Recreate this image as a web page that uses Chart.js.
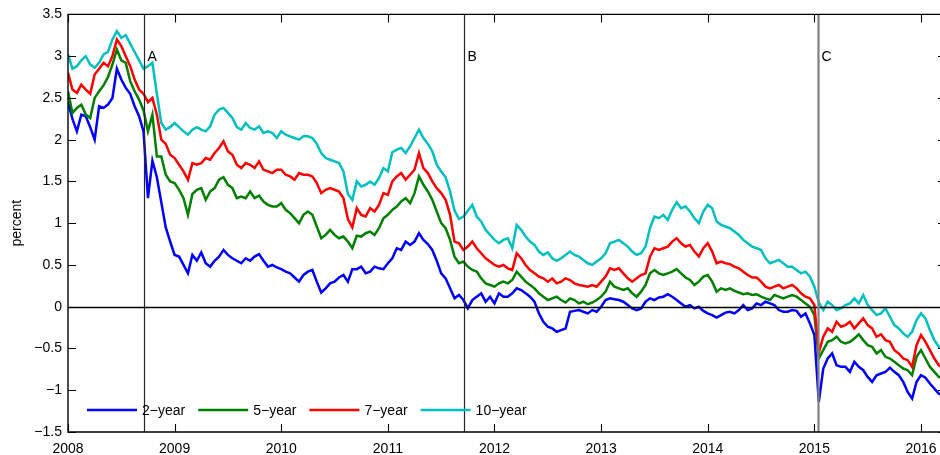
<!DOCTYPE html>
<html>
<head>
<meta charset="utf-8">
<title>Swiss government bond yields</title>
<script src="https://cdn.jsdelivr.net/npm/chart.js@4.4.1/dist/chart.umd.min.js"></script>
<style>
  html, body { margin: 0; padding: 0; background: #fff; overflow: hidden; }
  #wrap { width: 946px; height: 455px; }
</style>
</head>
<body>
<div id="wrap"><canvas id="c" width="946" height="455"></canvas></div>
<script>
// Half-monthly observations starting January 2008
const startYear = 2008;
const stepsPerYear = 24;

const yield2y = [
  2.45, 2.25, 2.10, 2.30, 2.28, 2.15, 2.00, 2.40, 2.38, 2.42, 2.50, 2.85, 2.72, 2.62, 2.55, 2.40,
  2.28, 2.10, 1.30, 1.75, 1.55, 1.25, 0.95, 0.78, 0.62, 0.60, 0.50, 0.40, 0.62, 0.55, 0.65, 0.52,
  0.48, 0.55, 0.60, 0.68, 0.62, 0.58, 0.55, 0.52, 0.58, 0.55, 0.60, 0.63, 0.55, 0.48, 0.50, 0.47,
  0.45, 0.42, 0.40, 0.35, 0.30, 0.38, 0.42, 0.44, 0.30, 0.17, 0.22, 0.28, 0.30, 0.35, 0.38, 0.30,
  0.45, 0.45, 0.48, 0.40, 0.42, 0.48, 0.46, 0.45, 0.52, 0.58, 0.70, 0.68, 0.78, 0.74, 0.78, 0.88,
  0.80, 0.75, 0.68, 0.55, 0.40, 0.34, 0.22, 0.10, 0.14, 0.08, -0.02, 0.08, 0.12, 0.16, 0.06, 0.12,
  0.04, 0.16, 0.12, 0.12, 0.16, 0.22, 0.20, 0.16, 0.12, 0.06, -0.08, -0.18, -0.24, -0.26, -0.30, -0.28,
  -0.26, -0.06, -0.05, -0.04, -0.06, -0.08, -0.04, -0.06, 0.00, 0.08, 0.10, 0.09, 0.08, 0.06, 0.02, -0.02,
  -0.04, -0.02, 0.06, 0.10, 0.08, 0.11, 0.12, 0.15, 0.12, 0.08, 0.04, 0.00, 0.02, -0.02, 0.00, -0.05,
  -0.08, -0.10, -0.13, -0.10, -0.07, -0.06, -0.08, -0.04, 0.02, -0.04, -0.02, 0.04, 0.02, 0.06, 0.04, 0.02,
  -0.04, -0.06, -0.06, -0.04, -0.05, -0.12, -0.08, -0.20, -0.34, -1.14, -0.74, -0.62, -0.56, -0.70, -0.72, -0.72,
  -0.78, -0.66, -0.72, -0.76, -0.84, -0.90, -0.82, -0.80, -0.78, -0.73, -0.78, -0.82, -0.90, -1.02, -1.10, -0.90,
  -0.82, -0.85, -0.92, -0.98, -1.04, -1.06
];

const yield5y = [
  2.58, 2.32, 2.38, 2.42, 2.30, 2.26, 2.50, 2.58, 2.65, 2.75, 2.90, 3.08, 2.95, 2.92, 2.70, 2.58,
  2.48, 2.35, 2.10, 2.30, 1.80, 1.80, 1.58, 1.50, 1.48, 1.40, 1.30, 1.10, 1.35, 1.40, 1.42, 1.28,
  1.38, 1.42, 1.52, 1.55, 1.46, 1.42, 1.30, 1.32, 1.30, 1.38, 1.30, 1.33, 1.26, 1.22, 1.20, 1.20,
  1.24, 1.16, 1.12, 1.06, 1.00, 1.10, 1.14, 1.10, 0.96, 0.82, 0.86, 0.92, 0.86, 0.82, 0.84, 0.78,
  0.70, 0.85, 0.84, 0.88, 0.90, 0.86, 0.94, 1.06, 1.10, 1.16, 1.20, 1.26, 1.30, 1.24, 1.36, 1.56,
  1.46, 1.38, 1.28, 1.14, 1.00, 0.94, 0.80, 0.60, 0.52, 0.54, 0.48, 0.44, 0.42, 0.34, 0.28, 0.26,
  0.24, 0.28, 0.30, 0.28, 0.32, 0.42, 0.36, 0.30, 0.26, 0.22, 0.16, 0.12, 0.08, 0.10, 0.12, 0.08,
  0.05, 0.10, 0.08, 0.04, 0.06, 0.03, 0.05, 0.08, 0.12, 0.18, 0.30, 0.24, 0.22, 0.20, 0.22, 0.16,
  0.12, 0.18, 0.26, 0.40, 0.44, 0.40, 0.38, 0.40, 0.42, 0.45, 0.40, 0.35, 0.32, 0.26, 0.30, 0.36,
  0.38, 0.30, 0.18, 0.22, 0.20, 0.22, 0.19, 0.17, 0.15, 0.16, 0.14, 0.15, 0.12, 0.10, 0.08, 0.14,
  0.12, 0.10, 0.12, 0.14, 0.12, 0.08, 0.04, 0.00, -0.10, -0.62, -0.52, -0.42, -0.40, -0.36, -0.42, -0.44,
  -0.42, -0.38, -0.33, -0.40, -0.46, -0.48, -0.56, -0.52, -0.60, -0.62, -0.66, -0.70, -0.74, -0.76, -0.82, -0.60,
  -0.52, -0.62, -0.72, -0.78, -0.84, -0.86
];

const yield7y = [
  2.80, 2.60, 2.56, 2.66, 2.60, 2.55, 2.78, 2.85, 2.92, 2.88, 3.00, 3.20, 3.12, 3.00, 2.88, 2.72,
  2.60, 2.55, 2.45, 2.50, 2.30, 2.00, 1.95, 1.82, 1.78, 1.70, 1.62, 1.52, 1.72, 1.70, 1.72, 1.78,
  1.76, 1.84, 1.90, 1.98, 1.86, 1.82, 1.70, 1.66, 1.72, 1.70, 1.66, 1.74, 1.64, 1.62, 1.60, 1.64,
  1.64, 1.58, 1.56, 1.52, 1.60, 1.58, 1.58, 1.56, 1.48, 1.36, 1.40, 1.42, 1.40, 1.38, 1.30, 1.05,
  0.95, 1.18, 1.10, 1.08, 1.18, 1.14, 1.22, 1.36, 1.34, 1.50, 1.56, 1.60, 1.52, 1.58, 1.64, 1.84,
  1.66, 1.60, 1.50, 1.42, 1.36, 1.28, 1.10, 0.78, 0.76, 0.68, 0.72, 0.78, 0.70, 0.64, 0.58, 0.54,
  0.50, 0.48, 0.50, 0.46, 0.44, 0.64, 0.58, 0.50, 0.44, 0.40, 0.36, 0.34, 0.30, 0.34, 0.28, 0.30,
  0.34, 0.32, 0.28, 0.26, 0.25, 0.24, 0.26, 0.24, 0.30, 0.36, 0.46, 0.44, 0.46, 0.40, 0.34, 0.30,
  0.34, 0.38, 0.40, 0.60, 0.70, 0.68, 0.70, 0.72, 0.78, 0.82, 0.76, 0.72, 0.74, 0.66, 0.60, 0.70,
  0.76, 0.66, 0.52, 0.54, 0.52, 0.51, 0.48, 0.46, 0.42, 0.38, 0.35, 0.35, 0.30, 0.24, 0.22, 0.24,
  0.26, 0.22, 0.24, 0.26, 0.22, 0.16, 0.12, 0.10, 0.02, -0.55, -0.36, -0.26, -0.30, -0.18, -0.24, -0.22,
  -0.18, -0.26, -0.20, -0.14, -0.22, -0.26, -0.36, -0.33, -0.40, -0.42, -0.52, -0.56, -0.62, -0.64, -0.72, -0.46,
  -0.34, -0.42, -0.52, -0.62, -0.70, -0.74
];

const yield10y = [
  3.02, 2.85, 2.88, 2.95, 3.00, 2.90, 2.86, 2.92, 3.02, 3.05, 3.20, 3.30, 3.22, 3.25, 3.15, 3.05,
  2.95, 2.85, 2.88, 2.92, 2.55, 2.20, 2.12, 2.15, 2.20, 2.15, 2.10, 2.06, 2.12, 2.15, 2.12, 2.10,
  2.16, 2.30, 2.36, 2.38, 2.32, 2.26, 2.15, 2.12, 2.20, 2.14, 2.12, 2.16, 2.08, 2.10, 2.08, 2.02,
  2.10, 2.06, 2.04, 2.02, 2.00, 2.04, 2.04, 2.02, 1.95, 1.84, 1.78, 1.76, 1.74, 1.72, 1.62, 1.35,
  1.28, 1.50, 1.44, 1.46, 1.50, 1.46, 1.54, 1.66, 1.62, 1.85, 1.88, 1.90, 1.84, 1.92, 2.02, 2.12,
  2.02, 1.95, 1.86, 1.70, 1.62, 1.55, 1.38, 1.15, 1.05, 1.08, 1.15, 1.22, 1.08, 1.02, 0.92, 0.86,
  0.80, 0.76, 0.80, 0.82, 0.70, 0.98, 0.92, 0.84, 0.78, 0.74, 0.66, 0.62, 0.65, 0.58, 0.55, 0.58,
  0.62, 0.66, 0.62, 0.60, 0.56, 0.52, 0.50, 0.54, 0.58, 0.64, 0.76, 0.78, 0.80, 0.76, 0.72, 0.66,
  0.62, 0.64, 0.72, 0.94, 1.08, 1.06, 1.10, 1.04, 1.16, 1.25, 1.18, 1.20, 1.14, 1.06, 1.00, 1.14,
  1.22, 1.18, 1.02, 0.98, 0.96, 0.94, 0.90, 0.86, 0.80, 0.76, 0.72, 0.70, 0.68, 0.58, 0.52, 0.54,
  0.56, 0.52, 0.48, 0.48, 0.44, 0.40, 0.42, 0.36, 0.24, 0.05, -0.04, 0.06, 0.02, -0.04, -0.02, 0.02,
  0.04, 0.10, 0.04, 0.14, 0.02, -0.04, -0.10, -0.08, -0.02, -0.12, -0.22, -0.26, -0.32, -0.36, -0.30, -0.16,
  -0.08, -0.14, -0.28, -0.40, -0.48, -0.50
];

const seriesLabels = ['2\u2212year', '5\u2212year', '7\u2212year', '10\u2212year'];
const seriesColors = ['#0000ff', '#008000', '#ff0000', '#00bfbf'];

// Event markers: Sept 2008, Sept 2011, Jan 2015
const eventDates = [2008.71, 2011.71, 2015.036];
const eventLabels = ['A', 'B', 'C'];

const yearTicks = [2008, 2009, 2010, 2011, 2012, 2013, 2014, 2015, 2016];
const percentTicks = [-1.5, -1, -0.5, 0, 0.5, 1, 1.5, 2, 2.5, 3, 3.5];

const FONT = '"Liberation Sans", Arial, Helvetica, sans-serif';

function toPoints(values) {
  return values.map((v, i) => ({ x: startYear + i / stepsPerYear, y: v }));
}

const allSeries = [yield2y, yield5y, yield7y, yield10y];

// Frame, inward ticks, zero line, event lines and the in-plot legend
const decorations = {
  id: 'decorations',
  afterDatasetsDraw(chart) {
    const { ctx, chartArea: a, scales: { x, y } } = chart;
    ctx.save();

    // zero line
    const y0 = Math.round(y.getPixelForValue(0)) + 0.5;
    ctx.strokeStyle = '#000';
    ctx.lineWidth = 1.5;
    ctx.beginPath(); ctx.moveTo(a.left, y0); ctx.lineTo(a.right, y0); ctx.stroke();

    // event lines with letters
    ctx.font = '14px ' + FONT;
    ctx.textBaseline = 'middle';
    ctx.textAlign = 'left';
    eventDates.forEach((d, k) => {
      const px = Math.round(x.getPixelForValue(d)) + 0.5;
      const isLast = k === eventDates.length - 1;
      ctx.strokeStyle = isLast ? '#808080' : '#262626';
      ctx.lineWidth = isLast ? 2.2 : 1.2;
      ctx.beginPath(); ctx.moveTo(px, a.top); ctx.lineTo(px, a.bottom); ctx.stroke();
      ctx.fillStyle = '#000';
      ctx.fillText(eventLabels[k], px + 3, y.getPixelForValue(3) + 1);
    });

    // axes frame
    ctx.strokeStyle = '#000';
    ctx.lineWidth = 1.4;
    ctx.beginPath();
    ctx.moveTo(a.right, a.top); ctx.lineTo(a.left, a.top);
    ctx.lineTo(a.left, a.bottom); ctx.lineTo(a.right, a.bottom);
    ctx.moveTo(a.right, a.top); ctx.lineTo(a.right, a.bottom);
    ctx.stroke();

    // inward tick marks on all four sides
    const tl = 8;
    ctx.lineWidth = 1.1;
    ctx.beginPath();
    yearTicks.forEach(v => {
      const px = Math.round(x.getPixelForValue(v)) + 0.5;
      ctx.moveTo(px, a.bottom); ctx.lineTo(px, a.bottom - tl);
      ctx.moveTo(px, a.top); ctx.lineTo(px, a.top + tl);
    });
    percentTicks.forEach(v => {
      const py = Math.round(y.getPixelForValue(v)) + 0.5;
      ctx.moveTo(a.left, py); ctx.lineTo(a.left + tl, py);
      ctx.moveTo(a.right, py); ctx.lineTo(a.right - tl, py);
    });
    ctx.stroke();

    // legend inside the plot, lower left
    let lx = a.left + 19;
    const ly = a.bottom - 22;
    chart.data.datasets.forEach(ds => {
      ctx.strokeStyle = ds.borderColor;
      ctx.lineWidth = 2.5;
      ctx.beginPath(); ctx.moveTo(lx, ly); ctx.lineTo(lx + 50, ly); ctx.stroke();
      lx += 55;
      ctx.fillStyle = '#000';
      ctx.fillText(ds.label, lx, ly + 1);
      lx += ctx.measureText(ds.label).width + 13;
    });

    ctx.restore();
  }
};

new Chart(document.getElementById('c'), {
  type: 'line',
  data: {
    datasets: allSeries.map((vals, k) => ({
      label: seriesLabels[k],
      data: toPoints(vals),
      borderColor: seriesColors[k],
      backgroundColor: seriesColors[k],
      borderWidth: 2.5,
      pointRadius: 0,
      tension: 0,
      fill: false,
      order: allSeries.length - k
    }))
  },
  options: {
    responsive: false,
    devicePixelRatio: 1,
    animation: false,
    layout: { padding: { top: 13, right: 0, bottom: 0, left: 0 } },
    plugins: { legend: { display: false }, tooltip: { enabled: false } },
    scales: {
      x: {
        type: 'linear',
        min: 2008,
        max: 2016.2345,
        afterBuildTicks: s => { s.ticks = yearTicks.map(v => ({ value: v })); },
        afterFit: s => { s.height = 23; },
        grid: { display: false, drawTicks: false },
        border: { display: false },
        ticks: {
          color: '#000',
          font: { family: FONT, size: 14 },
          padding: 9,
          maxRotation: 0,
          autoSkip: false,
          callback: v => String(v)
        }
      },
      y: {
        min: -1.5,
        max: 3.5,
        afterBuildTicks: s => { s.ticks = percentTicks.map(v => ({ value: v })); },
        afterFit: s => { s.width = 68; },
        grid: { display: false, drawTicks: false },
        border: { display: false },
        title: {
          display: true,
          text: 'percent',
          color: '#000',
          font: { family: FONT, size: 14 },
          padding: { top: 9, bottom: 0 }
        },
        ticks: {
          color: '#000',
          font: { family: FONT, size: 14 },
          padding: 6,
          autoSkip: false,
          callback: v => (v < 0 ? '\u2212' : '') + String(Math.abs(v))
        }
      }
    }
  },
  plugins: [decorations]
});
</script>
</body>
</html>
